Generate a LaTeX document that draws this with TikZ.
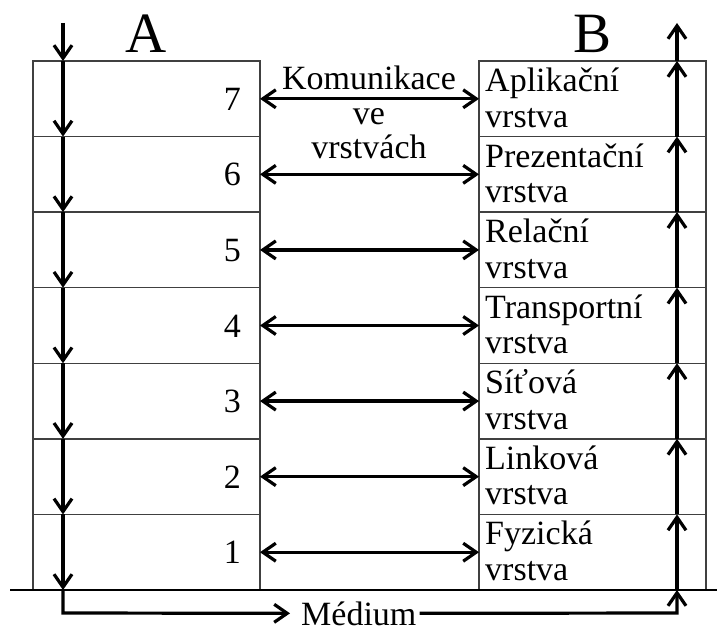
\documentclass[tikz,border=0pt]{standalone}
\usepackage{fontspec}
\setmainfont{Liberation Serif}
\usetikzlibrary{arrows.meta}
\begin{document}
\begin{tikzpicture}[x=1bp,y=-1bp,
  barb/.tip={Straight Barb[length=13bp,width=18bp,line width=3.2bp]},
  layer/.style={draw=black!75, line width=1.4bp, minimum width=227bp,
    minimum height=75.571bp, inner sep=0pt, outer sep=0pt},
  flow/.style={line width=3.2bp, -barb},
  talk/.style={line width=3.2bp, barb-barb},
  txt/.style={font=\fontsize{34bp}{35.5bp}\selectfont, inner sep=0pt},
  big/.style={font=\fontsize{57bp}{60bp}\selectfont, inner sep=0pt}]
\useasboundingbox (0,0) rectangle (717,629);

% the two layer stacks, layer numbers and peer-to-peer arrows
\foreach \i in {1,...,7} {
  \pgfmathsetmacro\yc{590-(\i-0.5)*75.571}
  \node[layer] (a\i) at (146.5,\yc) {};
  \node[layer] (b\i) at (592.5,\yc) {};
  \node[txt, anchor=base east] (n\i) at (241,\yc+11.5) {\i};
  \draw[talk] (a\i.east) -- (b\i.west);
}

% layer names in stack B
\foreach \i/\nm in {7/Aplikační, 6/Prezentační, 5/Relační, 4/Transportní,
                    3/Síťová, 2/Linková, 1/Fyzická} {
  \node[txt, anchor=base west] (l\i) at (485,590-\i*75.571+30.5)
    {\begin{tabular}[t]{@{}l@{}}\nm\\vrstva\end{tabular}};
}

% headings
\node[big, anchor=base] (hA) at (146.5,53) {A};
\node[big, anchor=base] (hB) at (592.5,53) {B};
\node[txt, anchor=base, font=\fontsize{34bp}{34.5bp}\selectfont] (comm) at (369,90)
  {\begin{tabular}[t]{@{}c@{}}Komunikace\\ve\\vrstvách\end{tabular}};

% transmission medium
\coordinate (g1) at (10,590);
\coordinate (g2) at (717,590);
\draw[line width=2.2bp] (g1) -- (g2);
\node[txt, anchor=base west] (med) at (301,625) {Médium};

% data going down through stack A
\coordinate (sa) at (63,23);
\coordinate (ca) at (63,613);
\draw[flow] (sa) -- (a7.north -| sa);
\foreach \i in {7,...,1} \draw[flow] (a\i.north -| sa) -- (a\i.south -| sa);
\draw[flow, shorten >=11bp] (a1.south -| sa) -- (ca) -- (med.west);

% data going up through stack B
\coordinate (sb) at (677,23);
\coordinate (cb) at (677,613);
\draw[flow, shorten <=3bp] (med.east) -- (cb) -- (b1.south -| cb);
\foreach \i in {1,...,7} \draw[flow] (b\i.south -| cb) -- (b\i.north -| cb);
\draw[flow] (b7.north -| cb) -- (sb);
\end{tikzpicture}
\end{document}
